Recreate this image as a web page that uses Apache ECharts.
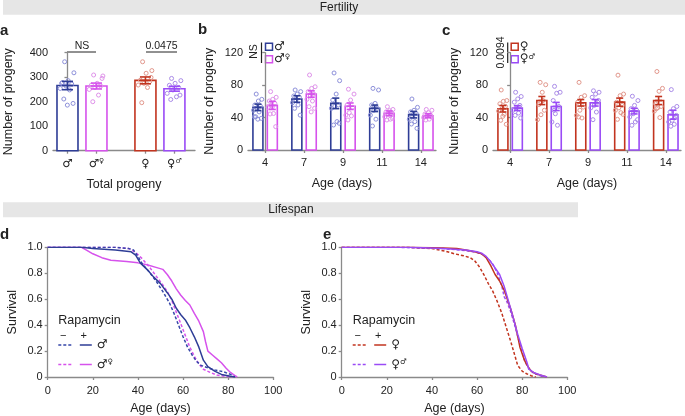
<!DOCTYPE html>
<html><head><meta charset="utf-8">
<script src="https://cdn.jsdelivr.net/npm/echarts@6/dist/echarts.min.js"></script>
<style>html,body{margin:0;padding:0;background:#fff}#c{width:685px;height:416px}</style>
</head><body><div id="c"></div><script>
// ---------------- data ----------------
const aGroups = ['♂', '♂♀', '♀', '♀♂'];
const aMean = [266, 264, 287, 253];
const aSem = [17, 12, 14, 10];
const aDots = [
  [363, 318, 286, 278, 272, 264, 254, 248, 211, 193, 186, 275],
  [309, 305, 275, 268, 264, 258, 250, 227, 200, 295],
  [363, 327, 316, 288, 282, 275, 268, 258, 196, 299],
  [295, 286, 275, 267, 258, 248, 234, 220, 209, 227]
];
const ageTicks = ['4', '7', '9', '11', '14'];
const bMaleMean = [52.6, 62.9, 57.5, 51.4, 43.6];
const bMaleSem = [4, 4, 6.5, 4, 4];
const bMaleDots = [
  [69, 62.5, 60.4, 55.5, 54, 52, 49, 47, 41, 39, 38, 41],
  [74, 72, 69, 66.6, 65, 61.6, 58.4, 55.5, 51.4, 43],
  [95, 85.5, 69, 61.6, 55.5, 54, 51.4, 35, 30.8, 33],
  [76, 74, 57.5, 55.5, 51.4, 49, 43, 38, 29.6],
  [62.9, 52.6, 49, 47, 45, 41, 38, 35, 32, 26.7]
];
const bMixMean = [55, 69, 54, 45.2, 42.3];
const bMixSem = [5, 4, 4, 3, 2.5];
const bMixDots = [
  [72, 65, 62.5, 60.4, 57.5, 55.5, 52.6, 45, 44.4, 28.8, 53],
  [92.5, 78, 76, 72, 69, 66.6, 62.5, 60.4, 53.4, 51.4, 47],
  [75, 69, 61.6, 55.5, 52.6, 46, 43, 42, 37],
  [53.4, 50, 48.5, 47, 46, 44.4, 41, 38, 37, 39],
  [50, 49, 46, 44.4, 43, 42, 40, 38, 37, 41]
];
const cFemMean = [50.9, 61, 58.2, 59, 61];
const cFemSem = [4, 5, 4, 5, 5];
const cFemDots = [
  [74, 61, 60, 57, 53.7, 51, 48, 44, 36.6, 31.7, 41.5],
  [83.4, 80.5, 71.2, 56, 49, 43.5, 37.4, 61],
  [83.4, 67, 65, 59, 52.9, 49, 42.7, 39.5, 40.7],
  [92.3, 69, 67, 59, 55, 52, 49, 46, 37.8, 44],
  [96.8, 76, 72.4, 57, 53.7, 52, 48, 40, 51]
];
const cMixMean = [51.7, 53.7, 58.2, 48, 43.5];
const cMixSem = [3, 5, 4, 3.5, 5.5];
const cMixDots = [
  [71.2, 66, 63, 59, 55, 52, 49, 45.6, 42.7, 39.5],
  [78.5, 71.2, 70, 61, 53.7, 44.7, 34.6, 30.5, 49],
  [73, 71.2, 69, 65, 59, 55, 52, 46.8, 37.4, 61],
  [66.3, 61, 55, 51, 49, 44.7, 40.7, 34.6, 30.5, 37.4],
  [74.5, 53.7, 51, 46.8, 40.7, 36.6, 34.6, 31.7, 29.3, 42.7]
];
// survival curves [age (days), survival]
const dMaleMinus = [[0,1],[20,1],[30,1],[36,0.99],[38,0.98],[40,0.93],[42,0.87],[45,0.81],[48,0.74],[51,0.66],[54,0.57],[56,0.49],[58,0.40],[60,0.31],[62,0.23],[64,0.17],[66,0.12],[68,0.09],[71,0.07],[74,0.055],[78,0.04],[81,0.02],[83,0]];
const dMalePlus = [[0,1],[15,1],[20,0.99],[30,0.98],[37,0.965],[39,0.94],[41,0.88],[44,0.83],[47,0.77],[50,0.72],[53,0.65],[55,0.60],[57,0.53],[59,0.48],[61,0.44],[63,0.38],[65,0.31],[67,0.23],[69,0.13],[71,0.08],[74,0.045],[77,0.02],[81,0.005],[83,0]];
const dMixMinus = [[0,1],[30,1],[36,0.99],[39,0.96],[42,0.91],[45,0.85],[48,0.78],[51,0.71],[53,0.66],[55,0.59],[57,0.50],[59,0.41],[61,0.32],[63,0.23],[65,0.16],[67,0.10],[69,0.06],[72,0.035],[75,0.015],[79,0.005],[82,0]];
const dMixPlus = [[0,1],[15,1],[17,0.98],[20,0.95],[24,0.92],[28,0.90],[35,0.89],[40,0.88],[44,0.865],[48,0.845],[51,0.83],[53,0.79],[55,0.74],[57,0.68],[59,0.63],[61,0.59],[63,0.555],[65,0.49],[67,0.43],[69,0.35],[70,0.27],[71,0.2],[73,0.17],[75,0.14],[77,0.11],[79,0.07],[81,0.035],[83,0.01],[84,0]];
const eFemMinus = [[0,1],[30,1],[40,0.99],[46,0.97],[50,0.95],[54,0.935],[57,0.92],[59,0.895],[61,0.85],[63,0.79],[65,0.72],[67,0.66],[69,0.58],[71,0.49],[73,0.38],[75,0.27],[77,0.15],[78,0.09],[80,0.045],[82,0.025],[84,0.01],[86,0]];
const eFemPlus = [[0,1],[30,1],[45,0.995],[51,0.99],[55,0.98],[59,0.965],[62,0.95],[64,0.92],[66,0.86],[68,0.79],[70,0.74],[72,0.67],[74,0.57],[75,0.52],[77,0.40],[79,0.23],[81,0.13],[82,0.095],[84,0.045],[86,0.025],[89,0.01],[91,0]];
const eMixMinus = [[0,1],[25,1],[35,0.995],[45,0.99],[55,0.975],[60,0.96],[63,0.94],[65,0.91],[67,0.87],[69,0.80],[71,0.70],[72,0.62],[73,0.59],[75,0.50],[77,0.38],[79,0.25],[81,0.13],[83,0.06],[85,0.03],[88,0.01],[90,0]];
const eMixPlus = [[0,1],[30,1],[45,0.99],[55,0.98],[60,0.965],[62,0.955],[64,0.93],[66,0.89],[68,0.84],[70,0.79],[72,0.70],[74,0.58],[76,0.46],[78,0.33],[80,0.22],[82,0.12],[83,0.06],[85,0.035],[88,0.015],[91,0]];

// ---------------- style ----------------
const FONT = 'Liberation Sans, Arial, sans-serif';
const SYMF = 'DejaVu Sans, sans-serif';
const TXT = '#222';
const AX = '#8a8a8a';
const COL = {
  male: '#2e3d96', maleDot: '#8d90da',
  mix: '#d652ec', mixDot: '#df93ea',
  fem: '#c2341f', femDot: '#e2978c',
  fmix: '#9a4bf6', fmixDot: '#aa8ce8'
};
const A_GAP = 0.69;      // extra spacing between the two pairs in panel a
const B_OFF = 0.185;     // half distance between paired bars in b / c (axis units)

const aXs = aGroups.map((_, i) => i + (i >= 2 ? A_GAP : 0));
const ageIdx = ageTicks.map((_, i) => i);

function symRich(s) {
  const first = s.charAt(0), rest = s.slice(1);
  return '{s|' + first + '}' + (rest ? '{u|' + rest + '}' : '');
}
const symRichStyle = {
  s: {fontFamily: SYMF, fontSize: 11.5, color: TXT},
  u: {fontFamily: SYMF, fontSize: 7, color: TXT, verticalAlign: 'top', padding: [0, 0, 5, 0]}
};

function jitter(k) { return ((k * 0.618034 + 0.31) % 1) - 0.5; }

function groupSeries(gi, xs, means, sems, dots, color, dotColor, barW, spread, capW) {
  const dotData = [];
  dots.forEach((arr, i) => arr.forEach((v, k) => dotData.push([xs[i], v, k])));
  return [
    {
      type: 'custom', xAxisIndex: gi, yAxisIndex: gi, z: 1, silent: true,
      data: xs.map((x, i) => [x, means[i]]),
      renderItem: (p, api) => {
        const t = api.coord([api.value(0), api.value(1)]);
        const b = api.coord([api.value(0), 0]);
        return {type: 'rect', shape: {x: t[0] - barW / 2, y: t[1], width: barW, height: b[1] - t[1]},
          style: {fill: '#fff', stroke: color, lineWidth: 1.6}};
      }
    },
    {
      type: 'custom', xAxisIndex: gi, yAxisIndex: gi, z: 2, silent: true,
      data: dotData,
      renderItem: (p, api) => {
        const c = api.coord([api.value(0), api.value(1)]);
        return {type: 'circle', shape: {cx: c[0] + jitter(api.value(2)) * spread, cy: c[1], r: 2},
          style: {fill: 'none', stroke: dotColor, lineWidth: 1}};
      }
    },
    {
      type: 'custom', xAxisIndex: gi, yAxisIndex: gi, z: 3, silent: true,
      data: xs.map((x, i) => [x, means[i], sems[i]]),
      renderItem: (p, api) => {
        const x = api.value(0), m = api.value(1), s = api.value(2);
        const t = api.coord([x, m + s]), b = api.coord([x, m - s]), mm = api.coord([x, m]);
        const st = {stroke: color, lineWidth: 1.6};
        return {type: 'group', children: [
          {type: 'line', shape: {x1: t[0], y1: t[1], x2: b[0], y2: b[1]}, style: st},
          {type: 'line', shape: {x1: t[0] - capW / 2, y1: t[1], x2: t[0] + capW / 2, y2: t[1]}, style: st},
          {type: 'line', shape: {x1: b[0] - capW / 2, y1: b[1], x2: b[0] + capW / 2, y2: b[1]}, style: st},
          {type: 'line', shape: {x1: mm[0] - capW / 2, y1: mm[1], x2: mm[0] + capW / 2, y2: mm[1]}, style: st}
        ]};
      }
    }
  ];
}

function lineSeries(gi, data, color, dotted, z) {
  return {type: 'line', xAxisIndex: gi, yAxisIndex: gi, data: data, showSymbol: false, z: z || 2,
    lineStyle: {color: color, width: 1.5, type: dotted ? [3, 2] : 'solid'}, silent: true};
}

const axisLine = {show: true, lineStyle: {color: AX, width: 1.3}};
const axisTick = {show: true, length: 3, lineStyle: {color: AX, width: 1.3}};
const lab = {color: TXT, fontSize: 11, fontFamily: FONT};
const nameSt = {color: TXT, fontSize: 12.5, fontFamily: FONT};

const grids = [
  {left: 53, top: 52.7, width: 142, height: 98},
  {left: 248, top: 52.7, width: 188, height: 97.3},
  {left: 493, top: 52.7, width: 188, height: 97.3},
  {left: 47.7, top: 247.3, width: 225.6, height: 130},
  {left: 341.7, top: 247.3, width: 225.6, height: 130}
];

function catX(gi, min, max, vals, labels, name) {
  return {type: 'value', gridIndex: gi, min: min, max: max, splitLine: {show: false},
    axisLine: axisLine,
    axisTick: Object.assign({}, axisTick, {customValues: vals}),
    axisLabel: Object.assign({}, lab, {customValues: vals, margin: 7, rich: symRichStyle,
      formatter: v => { const i = vals.findIndex(x => Math.abs(x - v) < 1e-6); return i < 0 ? '' : labels[i]; }}),
    name: name, nameLocation: 'middle', nameGap: 27, nameTextStyle: nameSt};
}
function valY(gi, max, interval, name, gap, fmt) {
  return {type: 'value', gridIndex: gi, min: 0, max: max, interval: interval, splitLine: {show: false},
    axisLine: axisLine, axisTick: axisTick,
    axisLabel: Object.assign({}, lab, {margin: 5, formatter: fmt}),
    name: name, nameLocation: 'middle', nameGap: gap, nameTextStyle: nameSt};
}
const survFmt = v => v === 0 ? '0' : v.toFixed(1);

const xAxis = [
  catX(0, -0.5, 4.4, aXs, aGroups.map(symRich), 'Total progeny'),
  catX(1, -0.44, 4.39, ageIdx, ageTicks, 'Age (days)'),
  catX(2, -0.44, 4.39, ageIdx, ageTicks, 'Age (days)'),
  {type: 'value', gridIndex: 3, min: 0, max: 100, interval: 20, splitLine: {show: false}, axisLine: axisLine,
    axisTick: axisTick, axisLabel: Object.assign({}, lab, {margin: 8}),
    name: 'Age (days)', nameLocation: 'middle', nameGap: 25, nameTextStyle: nameSt},
  {type: 'value', gridIndex: 4, min: 0, max: 100, interval: 20, splitLine: {show: false}, axisLine: axisLine,
    axisTick: axisTick, axisLabel: Object.assign({}, lab, {margin: 8}),
    name: 'Age (days)', nameLocation: 'middle', nameGap: 25, nameTextStyle: nameSt}
];
const yAxis = [
  valY(0, 400, 100, 'Number of progeny', 38),
  valY(1, 120, 40, 'Number of progeny', 32),
  valY(2, 120, 40, 'Number of progeny', 32),
  valY(3, 1, 0.2, 'Survival', 29, survFmt),
  valY(4, 1, 0.2, 'Survival', 29, survFmt)
];

let series = [];
const aCols = [[COL.male, COL.maleDot], [COL.mix, COL.mixDot], [COL.fem, COL.femDot], [COL.fmix, COL.fmixDot]];
aGroups.forEach((g, i) => {
  series = series.concat(groupSeries(0, [aXs[i]], [aMean[i]], [aSem[i]], [aDots[i]], aCols[i][0], aCols[i][1], 21, 15, 11));
});
series = series.concat(groupSeries(1, ageIdx.map(i => i - B_OFF), bMaleMean, bMaleSem, bMaleDots, COL.male, COL.maleDot, 10, 9, 7));
series = series.concat(groupSeries(1, ageIdx.map(i => i + B_OFF), bMixMean, bMixSem, bMixDots, COL.mix, COL.mixDot, 10, 9, 7));
series = series.concat(groupSeries(2, ageIdx.map(i => i - B_OFF), cFemMean, cFemSem, cFemDots, COL.fem, COL.femDot, 10, 9, 7));
series = series.concat(groupSeries(2, ageIdx.map(i => i + B_OFF), cMixMean, cMixSem, cMixDots, COL.fmix, COL.fmixDot, 10, 9, 7));
series.push(lineSeries(3, dMixMinus, COL.mix, true, 2));
series.push(lineSeries(3, dMaleMinus, '#3546a8', true, 3));
series.push(lineSeries(3, dMixPlus, COL.mix, false, 2));
series.push(lineSeries(3, dMalePlus, COL.male, false, 4));
series.push(lineSeries(4, eFemMinus, COL.fem, true, 2));
series.push(lineSeries(4, eMixMinus, COL.fmix, true, 2));
series.push(lineSeries(4, eFemPlus, COL.fem, false, 3));
series.push(lineSeries(4, eMixPlus, COL.fmix, false, 4));

// ---------------- annotations ----------------
function txt(x, y, s, o, rot) {
  return {type: 'text', x: x, y: y, rotation: rot || 0, silent: true, style: Object.assign({text: s, fill: TXT, font: '12px ' + FONT,
    textAlign: 'center', textVerticalAlign: 'middle'}, o || {})};
}
function ln(x1, y1, x2, y2, c, w, dash) {
  return {type: 'line', silent: true, shape: {x1, y1, x2, y2}, style: {stroke: c || TXT, lineWidth: w || 1, lineDash: dash || null}};
}
function sq(x, y, c) {
  return {type: 'rect', silent: true, shape: {x: x - 3.5, y: y - 3.5, width: 7, height: 7}, style: {fill: '#fff', stroke: c, lineWidth: 1.5}};
}
function symTxt(x, y, s) {
  return {type: 'text', x: x, y: y, silent: true, style: {text: symRich(s), rich: {
    s: {fontFamily: SYMF, fontSize: 12, fill: TXT},
    u: {fontFamily: SYMF, fontSize: 7.5, fill: TXT, verticalAlign: 'top', padding: [0, 0, 5, 0]}},
    textAlign: 'left', textVerticalAlign: 'middle'}};
}
function survLegend(x0, sym1, sym2, c1, c2, cd1) {
  return [
    txt(x0, 321, 'Rapamycin', {textAlign: 'left', font: '12.5px ' + FONT}),
    txt(x0 + 5, 336, '−', {font: '11px ' + FONT}),
    txt(x0 + 25.5, 336, '+', {font: '11px ' + FONT}),
    ln(x0, 345, x0 + 15, 345, cd1, 1.5, [3, 2]),
    ln(x0 + 21.5, 345, x0 + 33.5, 345, c1, 1.5),
    symTxt(x0 + 38.5, 345, sym1),
    ln(x0, 364.5, x0 + 15, 364.5, c2, 1.5, [3, 2]),
    ln(x0 + 21.5, 364.5, x0 + 33.5, 364.5, c2, 1.5),
    symTxt(x0 + 38.5, 364.5, sym2)
  ];
}
const bold = {font: 'bold 15px ' + FONT, textAlign: 'left'};
const graphic = [
  {type: 'rect', silent: true, shape: {x: 3, y: 0, width: 682, height: 14.7}, style: {fill: '#e6e6e6'}},
  txt(339, 7.5, 'Fertility'),
  {type: 'rect', silent: true, shape: {x: 3, y: 202.3, width: 575, height: 15}, style: {fill: '#e6e6e6'}},
  txt(291, 210, 'Lifespan'),
  txt(0, 31, 'a', bold), txt(198, 30, 'b', bold), txt(442, 31, 'c', bold),
  txt(0, 235, 'd', bold), txt(323, 235, 'e', bold),
  // panel a significance
  txt(82, 46.5, 'NS', {font: '10.5px ' + FONT}), ln(67, 52, 96, 52, TXT, 1),
  txt(161.5, 46.5, '0.0475', {font: '10.5px ' + FONT}), ln(146, 52, 177, 52, TXT, 1),
  // panel b legend
  txt(254, 51.5, 'NS', {font: '10.5px ' + FONT}, Math.PI / 2),
  ln(261.5, 42.5, 261.5, 63, TXT, 1.2),
  sq(269, 46.7, COL.male), symTxt(274, 46.7, '♂'),
  sq(269, 59.3, COL.mix), symTxt(274, 59.3, '♂♀'),
  // panel c legend
  txt(501.5, 52.5, '0.0094', {font: '10.5px ' + FONT}, Math.PI / 2),
  ln(507.7, 42.5, 507.7, 63, TXT, 1.2),
  sq(514.7, 46.7, COL.fem), symTxt(519.7, 46.7, '♀'),
  sq(514.7, 59.3, COL.fmix), symTxt(519.7, 59.3, '♀♂')
].concat(survLegend(58.3, '♂', '♂♀', COL.male, COL.mix, '#3546a8'))
 .concat(survLegend(352.7, '♀', '♀♂', COL.fem, COL.fmix, COL.fem));

const chart = echarts.init(document.getElementById('c'), null, {renderer: 'canvas'});
chart.setOption({
  animation: false,
  backgroundColor: '#fff',
  textStyle: {fontFamily: FONT},
  grid: grids,
  xAxis: xAxis,
  yAxis: yAxis,
  series: series,
  graphic: graphic
});
</script></body></html>
